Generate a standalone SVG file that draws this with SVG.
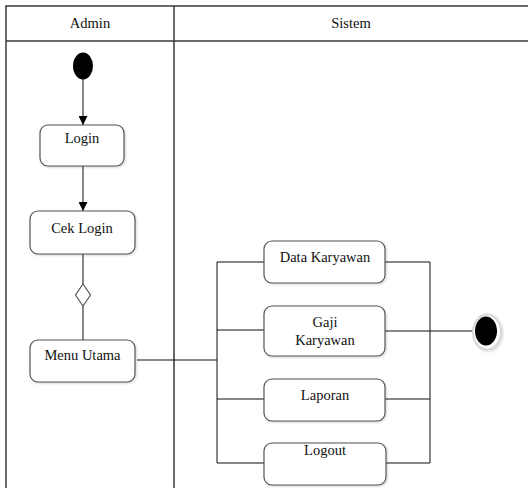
<svg xmlns="http://www.w3.org/2000/svg" width="528" height="488" viewBox="0 0 528 488">
<style>
.frame{fill:none;stroke:#3a3a3a;stroke-width:1.5}
.box{fill:#fff;stroke:#555;stroke-width:1.2}
.ln{fill:none;stroke:#111;stroke-width:1}
text{font-family:'Liberation Serif','DejaVu Serif',serif;font-size:14.5px;fill:#111;text-anchor:middle}
</style>
<defs>
<marker id="arr" viewBox="0 0 10 10" refX="10" refY="5" markerWidth="9" markerHeight="9" markerUnits="userSpaceOnUse" orient="auto">
<path d="M0,0 L10,5 L0,10 z" fill="#000"/>
</marker>
<filter id="sh" x="-20%" y="-20%" width="140%" height="140%">
<feDropShadow dx="1" dy="1" stdDeviation="0.8" flood-color="#000" flood-opacity="0.18"/>
</filter>
</defs>
<rect width="528" height="488" fill="#fff"/>
<g id="swimlanes">
<rect class="frame" x="6" y="6" width="530" height="490"/>
<line class="frame" x1="6" y1="41" x2="530" y2="41"/>
<line class="frame" x1="174" y1="6" x2="174" y2="490"/>
<text x="90" y="28" font-family="Liberation Serif, serif">Admin</text>
<text x="351" y="28" font-family="Liberation Serif, serif">Sistem</text>
</g>
<g id="connectors">
<line class="ln" x1="83" y1="79" x2="83" y2="125" marker-end="url(#arr)"/>
<line class="ln" x1="83" y1="166" x2="83" y2="211" marker-end="url(#arr)"/>
<line class="ln" x1="83" y1="254" x2="83" y2="284"/>
<line class="ln" x1="83" y1="306" x2="83" y2="340"/>
<polyline class="ln" points="137,360 217,360"/>
<line class="ln" x1="217" y1="262" x2="217" y2="463"/>
<line class="ln" x1="217" y1="262" x2="264" y2="262"/>
<line class="ln" x1="217" y1="330" x2="264" y2="330"/>
<line class="ln" x1="217" y1="399" x2="264" y2="399"/>
<line class="ln" x1="217" y1="463" x2="264" y2="463"/>
<line class="ln" x1="385" y1="262" x2="430" y2="262"/>
<line class="ln" x1="385" y1="331" x2="473" y2="331"/>
<line class="ln" x1="385" y1="399" x2="430" y2="399"/>
<line class="ln" x1="386" y1="463" x2="430" y2="463"/>
<line class="ln" x1="430" y1="262" x2="430" y2="463"/>
</g>
<g id="start">
<ellipse cx="83" cy="66" rx="10" ry="13.5" fill="#000"/>
</g>
<g id="login">
<rect class="box" filter="url(#sh)" x="40" y="125" width="84" height="41" rx="8"/>
<text x="82" y="143">Login</text>
</g>
<g id="cek-login">
<rect class="box" filter="url(#sh)" x="30" y="211" width="105" height="43" rx="8"/>
<text x="82" y="233">Cek Login</text>
</g>
<g id="decision">
<polygon points="83,284 90.5,295 83,306 75.5,295" fill="#fff" stroke="#555" stroke-width="1.2"/>
</g>
<g id="menu-utama">
<rect class="box" filter="url(#sh)" x="30" y="340" width="105" height="42" rx="8"/>
<text x="82.5" y="360">Menu Utama</text>
</g>
<g id="data-karyawan">
<rect class="box" filter="url(#sh)" x="264" y="241" width="121" height="42" rx="8"/>
<text x="325" y="262">Data Karyawan</text>
</g>
<g id="gaji-karyawan">
<rect class="box" filter="url(#sh)" x="264" y="306" width="121" height="50" rx="8"/>
<text x="325" y="327">Gaji</text>
<text x="325" y="345">Karyawan</text>
</g>
<g id="laporan">
<rect class="box" filter="url(#sh)" x="264" y="379" width="121" height="42" rx="8"/>
<text x="325" y="400">Laporan</text>
</g>
<g id="logout">
<rect class="box" filter="url(#sh)" x="264" y="443" width="122" height="42" rx="8"/>
<text x="325" y="455">Logout</text>
</g>
<g id="end">
<ellipse cx="487" cy="332" rx="14" ry="17.5" fill="#fff" stroke="#d8d8d8" stroke-width="2" filter="url(#sh)"/>
<ellipse cx="486" cy="331" rx="11" ry="14.5" fill="#000"/>
</g>
</svg>
